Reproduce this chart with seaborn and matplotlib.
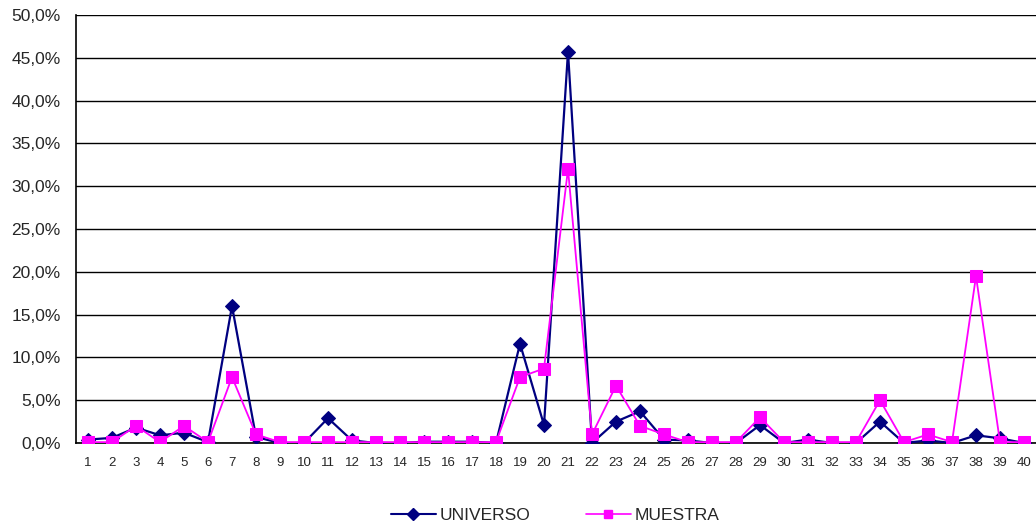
import numpy as np
import pandas as pd
import matplotlib
matplotlib.use("Agg")
import matplotlib.pyplot as plt
from matplotlib.ticker import FuncFormatter, MultipleLocator
from matplotlib.lines import Line2D
import seaborn as sns

#%% Datos
categorias = list(range(1, 41))
universo = [0.4, 0.6, 1.8, 0.9, 1.2, 0.1, 16.0, 0.7, 0.0, 0.0,
            2.9, 0.3, 0.0, 0.0, 0.15, 0.15, 0.15, 0.0, 11.6, 2.1,
            45.7, 0.0, 2.5, 3.7, 0.4, 0.3, 0.0, 0.0, 2.1, 0.0,
            0.4, 0.0, 0.0, 2.5, 0.0, 0.3, 0.0, 0.9, 0.55, 0.0]
muestra = [0.1, 0.1, 2.0, 0.1, 2.0, 0.1, 7.7, 1.0, 0.1, 0.1,
           0.1, 0.1, 0.1, 0.1, 0.1, 0.1, 0.1, 0.1, 7.7, 8.7,
           32.0, 1.0, 6.7, 2.0, 1.0, 0.1, 0.1, 0.1, 3.0, 0.1,
           0.1, 0.1, 0.1, 5.0, 0.1, 1.0, 0.1, 19.5, 0.1, 0.1]
series = ["UNIVERSO", "MUESTRA"]
colores = {"UNIVERSO": "#000080", "MUESTRA": "#FF00FF"}
marcadores = {"UNIVERSO": "D", "MUESTRA": "s"}

df = pd.DataFrame({
    "cat": categorias * 2,
    "valor": universo + muestra,
    "serie": ["UNIVERSO"] * 40 + ["MUESTRA"] * 40,
})

#%% Grafico
sns.set_style("white")
plt.rcParams["font.family"] = ["Liberation Sans", "DejaVu Sans"]

fig = plt.figure(figsize=(10.36, 5.29), dpi=100)
ax = fig.add_axes([76/1036, (529-443)/529, 1 - 76/1036, (443-15)/529])

for s in series:
    sub = df[df["serie"] == s]
    sns.lineplot(data=sub, x="cat", y="valor", ax=ax, color=colores[s],
                 marker=marcadores[s], markersize=7.5 if s == "UNIVERSO" else 8,
                 markeredgecolor=colores[s], linewidth=1.6 if s == "UNIVERSO" else 1.3,
                 legend=False, zorder=3 if s == "UNIVERSO" else 4)

ax.set_xlim(0.5, 40.5)
ax.set_ylim(0, 50)
ax.yaxis.set_major_locator(MultipleLocator(5))
ax.yaxis.set_major_formatter(FuncFormatter(lambda v, p: f"{v:.1f}%".replace(".", ",")))
ax.set_xticks(categorias)
ax.set_xticklabels([str(c) for c in categorias])
ax.set_xticks(np.arange(0.5, 41, 1), minor=True)
ax.tick_params(axis="x", which="major", length=0, pad=10, labelsize=9.5)
ax.tick_params(axis="x", which="minor", length=5, width=1, color="black", direction="out")
ax.tick_params(axis="y", length=4, width=1, color="black", direction="out", pad=7, labelsize=12.5)
ax.grid(axis="y", color="black", linewidth=1)
ax.set_axisbelow(True)
ax.set_xlabel("")
ax.set_ylabel("")
for lado in ["top", "right"]:
    ax.spines[lado].set_visible(False)
for lado in ["left", "bottom"]:
    ax.spines[lado].set_color("black")
    ax.spines[lado].set_linewidth(1.2)

handles = [Line2D([0], [0], color=colores[s], marker=marcadores[s], markersize=6,
                  linewidth=1.5 if s == "UNIVERSO" else 1.2) for s in series]
fig.legend(handles, series, loc="center", bbox_to_anchor=(555/1036, 1 - 515/529),
           ncol=2, frameon=False, fontsize=12.5, handlelength=2.6, columnspacing=3.2,
           handletextpad=0.2)

fig.savefig("out.png", dpi=100)
